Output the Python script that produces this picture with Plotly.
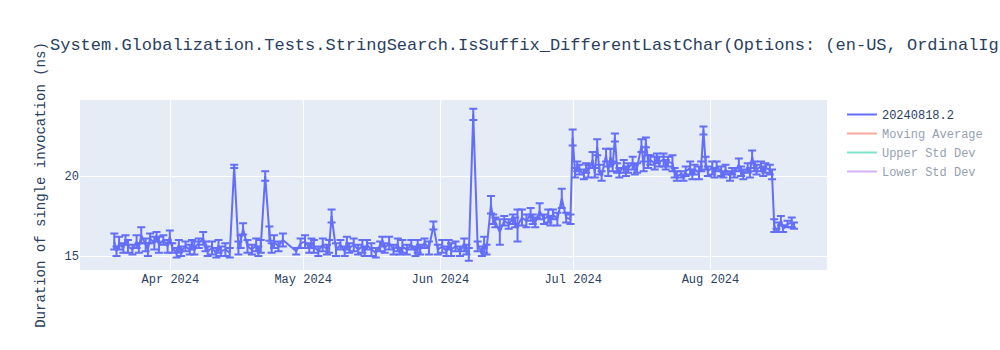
import plotly.graph_objects as go
import pandas as pd

title_text = "System.Globalization.Tests.StringSearch.IsSuffix_DifferentLastChar(Options: (en-US, OrdinalIgnoreCase))"
series_name = "20240818.2"

dates = [
    "2024-03-19 08:00", "2024-03-19 20:00", "2024-03-20 10:00", "2024-03-21 09:00", "2024-03-21 21:00",
    "2024-03-22 10:00", "2024-03-23 10:00", "2024-03-24 09:00", "2024-03-24 21:00", "2024-03-25 10:00",
    "2024-03-26 10:00", "2024-03-26 22:00", "2024-03-27 10:00", "2024-03-28 09:00", "2024-03-28 21:00",
    "2024-03-29 10:00", "2024-03-30 10:00", "2024-03-31 09:00", "2024-03-31 21:00",
    "2024-04-01 10:00", "2024-04-02 10:00", "2024-04-02 22:00", "2024-04-03 10:00", "2024-04-04 10:00",
    "2024-04-05 09:00", "2024-04-05 21:00", "2024-04-06 10:00", "2024-04-07 10:00", "2024-04-08 10:00",
    "2024-04-08 22:00", "2024-04-09 10:00", "2024-04-10 10:00", "2024-04-11 09:00", "2024-04-11 21:00",
    "2024-04-12 10:00", "2024-04-13 10:00", "2024-04-14 10:00", "2024-04-15 10:00", "2024-04-16 09:00",
    "2024-04-16 21:00", "2024-04-17 10:00", "2024-04-18 10:00", "2024-04-19 10:00", "2024-04-20 09:00",
    "2024-04-20 21:00", "2024-04-21 10:00", "2024-04-22 10:00", "2024-04-23 09:00", "2024-04-23 21:00",
    "2024-04-24 10:00", "2024-04-25 10:00", "2024-04-26 10:00", "2024-04-29 10:00", "2024-04-30 10:00",
    "2024-05-01 10:00", "2024-05-02 09:00", "2024-05-02 21:00", "2024-05-03 10:00", "2024-05-04 10:00",
    "2024-05-05 10:00", "2024-05-06 09:00", "2024-05-06 21:00", "2024-05-07 10:00", "2024-05-08 10:00",
    "2024-05-09 10:00", "2024-05-10 09:00", "2024-05-10 21:00", "2024-05-11 10:00", "2024-05-12 10:00",
    "2024-05-13 10:00", "2024-05-14 09:00", "2024-05-14 21:00", "2024-05-15 10:00", "2024-05-16 10:00",
    "2024-05-17 10:00", "2024-05-18 09:00", "2024-05-18 21:00", "2024-05-19 10:00", "2024-05-20 10:00",
    "2024-05-21 10:00", "2024-05-22 09:00", "2024-05-22 21:00", "2024-05-23 10:00", "2024-05-24 10:00",
    "2024-05-25 10:00", "2024-05-26 09:00", "2024-05-26 21:00", "2024-05-27 10:00", "2024-05-28 10:00",
    "2024-05-29 10:00", "2024-05-30 10:00", "2024-05-31 10:00",
    "2024-06-01 10:00", "2024-06-02 09:00", "2024-06-02 21:00", "2024-06-03 10:00", "2024-06-04 10:00",
    "2024-06-05 10:00", "2024-06-06 09:00", "2024-06-06 21:00", "2024-06-07 10:00", "2024-06-08 10:00",
    "2024-06-09 10:00", "2024-06-10 09:00", "2024-06-10 21:00", "2024-06-11 10:00", "2024-06-12 10:00",
    "2024-06-12 22:00", "2024-06-13 10:00", "2024-06-14 10:00", "2024-06-15 10:00", "2024-06-16 10:00",
    "2024-06-17 09:00", "2024-06-17 21:00", "2024-06-18 10:00", "2024-06-19 10:00", "2024-06-20 10:00",
    "2024-06-21 09:00", "2024-06-21 21:00", "2024-06-22 10:00", "2024-06-23 10:00", "2024-06-24 10:00",
    "2024-06-25 09:00", "2024-06-25 21:00", "2024-06-26 10:00", "2024-06-27 10:00", "2024-06-28 10:00",
    "2024-06-29 10:00", "2024-06-30 09:00", "2024-06-30 21:00",
    "2024-07-01 10:00", "2024-07-01 22:00", "2024-07-02 10:00", "2024-07-03 10:00", "2024-07-03 22:00",
    "2024-07-04 10:00", "2024-07-05 09:00", "2024-07-05 21:00", "2024-07-06 10:00", "2024-07-06 22:00",
    "2024-07-07 10:00", "2024-07-08 10:00", "2024-07-08 22:00", "2024-07-09 10:00", "2024-07-09 22:00",
    "2024-07-10 10:00", "2024-07-10 22:00", "2024-07-11 10:00", "2024-07-12 10:00", "2024-07-12 22:00",
    "2024-07-13 10:00", "2024-07-14 10:00", "2024-07-14 22:00", "2024-07-15 10:00", "2024-07-16 10:00",
    "2024-07-16 22:00", "2024-07-17 10:00", "2024-07-17 22:00", "2024-07-18 10:00", "2024-07-19 10:00",
    "2024-07-19 22:00", "2024-07-20 10:00", "2024-07-21 10:00", "2024-07-21 22:00", "2024-07-22 10:00",
    "2024-07-23 10:00", "2024-07-23 22:00", "2024-07-24 10:00", "2024-07-25 10:00", "2024-07-25 22:00",
    "2024-07-26 10:00", "2024-07-27 10:00", "2024-07-27 22:00", "2024-07-28 10:00", "2024-07-29 10:00",
    "2024-07-29 22:00", "2024-07-30 10:00", "2024-07-30 22:00", "2024-07-31 10:00",
    "2024-08-01 10:00", "2024-08-01 22:00", "2024-08-02 10:00", "2024-08-03 10:00", "2024-08-03 22:00",
    "2024-08-04 10:00", "2024-08-05 10:00", "2024-08-05 22:00", "2024-08-06 10:00", "2024-08-07 10:00",
    "2024-08-07 22:00", "2024-08-08 10:00", "2024-08-09 10:00", "2024-08-09 22:00", "2024-08-10 10:00",
    "2024-08-10 22:00", "2024-08-11 10:00", "2024-08-12 10:00", "2024-08-12 22:00", "2024-08-13 10:00",
    "2024-08-14 10:00", "2024-08-14 22:00", "2024-08-15 10:00", "2024-08-15 22:00", "2024-08-16 10:00",
    "2024-08-16 22:00", "2024-08-17 10:00", "2024-08-18 10:00", "2024-08-19 09:00", "2024-08-19 21:00",
]

values = [
    15.9, 15.3, 15.8, 15.5, 16.0,
    15.6, 15.4, 15.9, 15.5, 16.3,
    15.7, 15.4, 16.1, 15.8, 16.2,
    15.7, 16.0, 15.6, 16.2,
    15.5, 15.2, 15.6, 15.3, 15.6,
    15.4, 15.7, 15.5, 15.8, 16.1,
    15.6, 15.3, 15.5, 15.2, 15.6,
    15.3, 15.4, 15.2, 20.6, 15.5,
    15.9, 16.7, 15.6, 15.4, 15.7,
    15.3, 15.6, 20.0, 16.4, 15.5,
    15.9, 15.6, 16.0, 15.3, 15.8,
    15.9, 15.5, 15.8, 15.6, 15.3,
    15.7, 15.4, 15.6, 17.5, 15.4,
    15.7, 15.3, 15.8, 15.5, 15.7,
    15.4, 15.6, 15.3, 15.7, 15.4,
    15.2, 15.6, 15.9, 15.5, 15.8,
    15.4, 15.7, 15.3, 15.6, 15.4,
    15.7, 15.3, 15.6, 15.4, 15.8,
    15.5, 16.9, 15.4,
    15.6, 15.3, 15.7, 15.4, 15.6,
    15.3, 15.7, 15.4, 15.1, 23.85,
    15.6, 15.3, 15.7, 15.4, 18.2,
    17.3, 17.1, 16.5, 17.2, 17.0,
    17.3, 17.1, 16.9, 17.4, 17.2,
    17.6, 17.3, 17.1, 17.8, 17.3,
    17.5, 17.2, 17.6, 17.3, 18.6,
    17.4, 17.3, 22.4,
    20.2, 20.6, 20.4, 20.1, 20.5,
    20.3, 21.0, 20.2, 21.8, 20.4,
    20.0, 21.3, 20.3, 21.2, 20.6,
    22.4, 20.5, 20.2, 20.6, 20.3,
    20.5, 20.8, 20.4, 20.5, 21.9,
    20.6, 22.1, 20.9, 21.0, 20.8,
    21.1, 20.9, 21.0, 20.7, 20.9,
    20.8, 20.2, 20.0, 20.1, 19.9,
    20.3, 20.5, 20.1, 20.4, 20.2,
    20.6, 22.85, 20.8, 20.3,
    20.5, 20.2, 20.6, 20.3, 20.1,
    20.4, 20.0, 20.3, 20.2, 20.7,
    20.3, 20.1, 20.5, 20.2, 21.2,
    20.6, 20.4, 20.6, 20.3, 20.5,
    20.4, 20.1, 16.9, 16.6, 16.8,
    17.2, 16.7, 17.0, 17.1, 16.9,
]

errors = [
    0.5, 0.3, 0.4, 0.3, 0.3,
    0.4, 0.3, 0.4, 0.3, 0.5,
    0.4, 0.4, 0.3, 0.4, 0.3,
    0.5, 0.3, 0.4, 0.4,
    0.3, 0.3, 0.4, 0.3, 0.3,
    0.3, 0.3, 0.4, 0.3, 0.4,
    0.3, 0.3, 0.4, 0.3, 0.4,
    0.3, 0.4, 0.3, 0.1, 0.4,
    0.4, 0.35, 0.4, 0.3, 0.4,
    0.3, 0.4, 0.3, 0.45, 0.3,
    0.4, 0.3, 0.4, 0.2, 0.3,
    0.4, 0.3, 0.3, 0.4, 0.3,
    0.4, 0.3, 0.4, 0.4, 0.4,
    0.3, 0.3, 0.4, 0.3, 0.4,
    0.3, 0.4, 0.3, 0.3, 0.4,
    0.3, 0.3, 0.3, 0.3, 0.4,
    0.3, 0.4, 0.2, 0.4, 0.3,
    0.3, 0.3, 0.4, 0.3, 0.3,
    0.4, 0.25, 0.3,
    0.4, 0.3, 0.3, 0.4, 0.3,
    0.3, 0.4, 0.3, 0.4, 0.35,
    0.3, 0.3, 0.5, 0.3, 0.55,
    0.3, 0.3, 0.8, 0.3, 0.3,
    0.3, 0.3, 1.0, 0.5, 0.4,
    0.4, 0.3, 0.3, 0.5, 0.3,
    0.4, 0.3, 0.3, 0.4, 0.6,
    0.3, 0.3, 0.5,
    0.3, 0.3, 0.3, 0.3, 0.3,
    0.4, 0.5, 0.3, 0.5, 0.3,
    0.3, 0.4, 0.3, 0.5, 0.3,
    0.25, 0.3, 0.3, 0.4, 0.3,
    0.3, 0.4, 0.3, 0.3, 0.4,
    0.3, 0.3, 0.4, 0.3, 0.4,
    0.3, 0.3, 0.4, 0.3, 0.3,
    0.5, 0.3, 0.3, 0.2, 0.2,
    0.3, 0.4, 0.3, 0.3, 0.4,
    0.3, 0.25, 0.4, 0.3,
    0.4, 0.3, 0.3, 0.3, 0.2,
    0.3, 0.3, 0.2, 0.3, 0.4,
    0.3, 0.3, 0.3, 0.3, 0.4,
    0.3, 0.3, 0.3, 0.3, 0.3,
    0.3, 0.3, 0.4, 0.1, 0.3,
    0.3, 0.2, 0.2, 0.3, 0.2,
]

x_range = ["2024-03-11 14:00", "2024-08-27 08:00"]
y_range = [14.125, 24.75]

s = pd.Series(values, index=pd.to_datetime(dates))
moving_avg = s.rolling(10, min_periods=1).mean()
moving_std = s.rolling(10, min_periods=1).std().fillna(0)
upper = moving_avg + 2 * moving_std
lower = moving_avg - 2 * moving_std

fig = go.Figure()
fig.add_trace(go.Scatter(
    x=dates, y=values, mode="lines", name=series_name,
    error_y=dict(type="data", array=errors, visible=True),
))
fig.add_trace(go.Scatter(x=dates, y=list(moving_avg), mode="lines", name="Moving Average", visible="legendonly"))
fig.add_trace(go.Scatter(x=dates, y=list(upper), mode="lines", name="Upper Std Dev", visible="legendonly"))
fig.add_trace(go.Scatter(x=dates, y=list(lower), mode="lines", name="Lower Std Dev", visible="legendonly"))

fig.update_layout(
    width=1000, height=350,
    font=dict(family="Courier"),
    title=dict(text=title_text),
    yaxis=dict(title=dict(text="Duration of single invocation (ns)"), range=y_range),
    xaxis=dict(range=x_range),
)
fig.write_html("out.html")
